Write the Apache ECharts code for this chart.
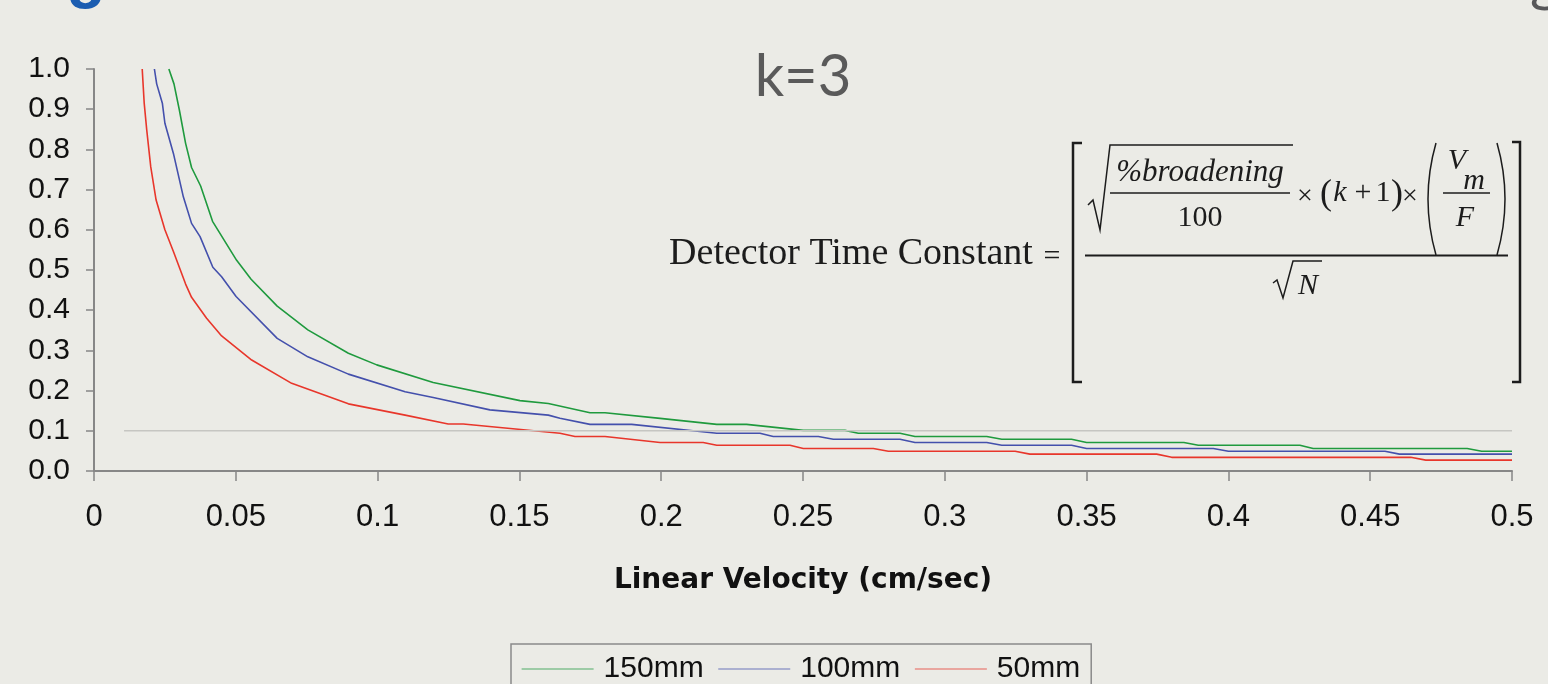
<!DOCTYPE html>
<html>
<head>
<meta charset="utf-8">
<title>k=3</title>
<script src="https://cdn.jsdelivr.net/npm/echarts@6/dist/echarts.min.js"></script>
<style>
html, body { margin: 0; padding: 0; background: #ebebe6; }
#chart { width: 1548px; height: 684px; }
</style>
</head>
<body>
<div id="chart"></div>
<script>
// linear velocity (cm/sec) and detector time constant
var velocity150 = [0.0264, 0.0282, 0.0301, 0.0323, 0.0344, 0.0376, 0.0418, 0.0503, 0.0554, 0.0646, 0.0754, 0.0897, 0.0997, 0.1196, 0.1502, 0.1602, 0.1749, 0.1802, 0.1996, 0.2196, 0.2301, 0.2501, 0.2648, 0.2695, 0.2842, 0.2895, 0.3148, 0.3201, 0.3447, 0.3500, 0.3843, 0.3894, 0.4252, 0.4299, 0.4842, 0.4893, 0.5];
var tau150 = [1.0, 0.963, 0.898, 0.815, 0.755, 0.709, 0.621, 0.524, 0.477, 0.410, 0.351, 0.293, 0.264, 0.220, 0.175, 0.168, 0.145, 0.145, 0.131, 0.116, 0.116, 0.101, 0.101, 0.094, 0.094, 0.086, 0.086, 0.079, 0.079, 0.071, 0.071, 0.064, 0.064, 0.056, 0.056, 0.049, 0.049];

var velocity100 = [0.0213, 0.0221, 0.0241, 0.0250, 0.0280, 0.0315, 0.0344, 0.0374, 0.0419, 0.0450, 0.0501, 0.0646, 0.0754, 0.0897, 0.1097, 0.1196, 0.1396, 0.1602, 0.1643, 0.1749, 0.1896, 0.2196, 0.2348, 0.2395, 0.2554, 0.2607, 0.2842, 0.2895, 0.3148, 0.3201, 0.3447, 0.3500, 0.3947, 0.4000, 0.4552, 0.4603, 0.5];
var tau100 = [1.0, 0.963, 0.915, 0.865, 0.790, 0.682, 0.616, 0.583, 0.507, 0.483, 0.434, 0.330, 0.284, 0.241, 0.197, 0.183, 0.152, 0.139, 0.131, 0.116, 0.116, 0.094, 0.094, 0.086, 0.086, 0.079, 0.079, 0.071, 0.071, 0.064, 0.064, 0.056, 0.056, 0.049, 0.049, 0.042, 0.042];

var velocity50 = [0.0170, 0.0177, 0.0186, 0.0200, 0.0219, 0.0250, 0.0280, 0.0323, 0.0344, 0.0397, 0.0450, 0.0556, 0.0697, 0.0897, 0.1097, 0.1249, 0.1302, 0.1643, 0.1696, 0.1802, 0.1996, 0.2148, 0.2196, 0.2454, 0.2501, 0.2748, 0.2801, 0.3248, 0.3300, 0.3747, 0.3800, 0.4643, 0.4696, 0.5];
var tau50 = [1.0, 0.915, 0.848, 0.757, 0.674, 0.600, 0.546, 0.465, 0.432, 0.380, 0.336, 0.276, 0.218, 0.167, 0.139, 0.117, 0.117, 0.094, 0.086, 0.086, 0.071, 0.071, 0.064, 0.064, 0.056, 0.056, 0.049, 0.049, 0.042, 0.042, 0.034, 0.034, 0.027, 0.027];

// 0.1 reference line
var refVelocity = [0.0106, 0.5];
var refTau = [0.1, 0.1];

var seriesNames = ['150mm', '100mm', '50mm'];
var seriesColors = ['#1f9a3e', '#4450ac', '#e8362b'];

function pairs(xs, ys) {
    return xs.map(function (x, i) { return [x, ys[i]]; });
}

var ink = '#1c1c1c';
function tx(text, x, base, size, italic) {
    return {
        type: 'text', x: x, y: base - 0.31 * size, silent: true,
        style: {
            text: text, fill: ink, align: 'center', verticalAlign: 'middle',
            fontSize: size, fontFamily: '"Liberation Serif", serif',
            fontStyle: italic ? 'italic' : 'normal'
        }
    };
}
function ln(points, w) {
    return {
        type: 'polyline', silent: true, shape: { points: points },
        style: { stroke: ink, lineWidth: w || 1.5, fill: null }
    };
}
function paren(x1, cpx, y1, y2) {
    return {
        type: 'bezierCurve', silent: true,
        shape: { x1: x1, y1: y1, x2: x1, y2: y2, cpx1: cpx, cpy1: (y1 + y2) / 2 },
        style: { stroke: ink, lineWidth: 1.5, fill: null }
    };
}

var formula = [
    tx('Detector Time Constant', 851, 266, 38, false),
    tx('=', 1052, 266, 30, false),
    ln([[1082, 143], [1073, 143], [1073, 382], [1082, 382]], 2.5),
    ln([[1512, 142], [1520, 142], [1520, 382], [1512, 382]], 2.5),
    ln([[1085, 255.5], [1508, 255.5]], 2),
    ln([[1088, 205], [1093, 200], [1100, 230], [1110, 145], [1293, 145]], 1.5),
    tx('%broadening', 1200, 182, 31, true),
    ln([[1110, 193], [1290, 193]], 1.5),
    tx('100', 1200, 227, 30, false),
    tx('\u00d7', 1305, 205, 28, false),
    tx('(', 1326, 206, 36, false),
    tx('k', 1340, 202, 30, true),
    tx('+', 1363, 202, 30, false),
    tx('1', 1383, 202, 30, false),
    tx(')', 1397, 206, 36, false),
    tx('\u00d7', 1410, 205, 28, false),
    paren(1436, 1420, 143, 255),
    paren(1497, 1513, 143, 255),
    tx('V', 1457, 170, 30, true),
    tx('m', 1474, 190, 30, true),
    ln([[1443, 193], [1490, 193]], 1.5),
    tx('F', 1465, 227, 30, true),
    ln([[1273, 283], [1277, 280], [1283, 298], [1293, 261], [1322, 261]], 1.5),
    tx('N', 1308, 295, 30, true)
];

// fragments of the slide heading cut off at the top edge, and the title
var fragments = [
    { type: 'text', x: 86, y: -22, silent: true,
      style: { text: 'g', fill: '#1b5db1', align: 'center', verticalAlign: 'middle',
               fontSize: 64, fontWeight: 'bold', fontFamily: '"Liberation Sans", Arial' } },
    { type: 'text', x: 1545, y: -19, silent: true,
      style: { text: 'g', fill: '#58585a', align: 'center', verticalAlign: 'middle',
               fontSize: 58, fontFamily: 'Lato, sans-serif' } },
    { type: 'text', x: 803, y: 77, silent: true,
      style: { text: 'k=3', fill: '#5a5a5a', align: 'center', verticalAlign: 'middle',
               fontSize: 58, fontFamily: 'Lato, sans-serif' } }
];

var series = [
    [velocity150, tau150],
    [velocity100, tau100],
    [velocity50, tau50]
].map(function (d, i) {
    return {
        name: seriesNames[i],
        type: 'line',
        symbol: 'none',
        z: 2,
        data: pairs(d[0], d[1]),
        lineStyle: { color: seriesColors[i], width: 1.6 },
        itemStyle: { color: seriesColors[i] }
    };
});
series.push({
    name: 'ref',
    type: 'line',
    symbol: 'none',
    silent: true,
    z: 3,
    data: pairs(refVelocity, refTau),
    lineStyle: { color: '#c6c6c2', width: 1.5 }
});

var myChart = echarts.init(document.getElementById('chart'));
var option = {
    backgroundColor: '#ebebe6',
    animation: false,
    grid: { left: 94, right: 36, top: 69, bottom: 213, containLabel: false },
    legend: {
        data: seriesNames,
        left: 511,
        top: 644,
        padding: [10, 11, 10, 10],
        borderColor: '#8a8a8a',
        borderWidth: 1.5,
        itemWidth: 72,
        itemHeight: 14,
        itemGap: 14,
        itemStyle: { opacity: 0 },
        lineStyle: { width: 1.2, opacity: 0.75 },
        textStyle: { fontSize: 30, color: '#111', fontFamily: '"Liberation Sans", Arial', padding: [0, 0, 0, 5] }
    },
    xAxis: {
        type: 'value',
        min: 0,
        max: 0.5,
        interval: 0.05,
        name: 'Linear Velocity (cm/sec)',
        nameLocation: 'middle',
        nameGap: 96,
        nameTextStyle: { fontSize: 28, fontWeight: 'bold', color: '#111', fontFamily: '"DejaVu Sans", sans-serif' },
        axisLine: { lineStyle: { color: '#878787', width: 2 } },
        axisTick: { length: 10, lineStyle: { color: '#878787', width: 1.5 } },
        splitLine: { show: false },
        axisLabel: { fontSize: 31, color: '#111', margin: 31, fontFamily: '"Liberation Sans", Arial' }
    },
    yAxis: {
        type: 'value',
        min: 0,
        max: 1,
        interval: 0.1,
        axisLine: { show: true, lineStyle: { color: '#878787', width: 2 } },
        axisTick: { show: true, length: 8, lineStyle: { color: '#878787', width: 1.5 } },
        splitLine: { show: false },
        axisLabel: {
            fontSize: 30, color: '#111', margin: 24, fontFamily: '"Liberation Sans", Arial',
            formatter: function (v) { return v.toFixed(1); }
        }
    },
    graphic: fragments.concat(formula),
    series: series
};
myChart.setOption(option);
</script>
</body>
</html>
